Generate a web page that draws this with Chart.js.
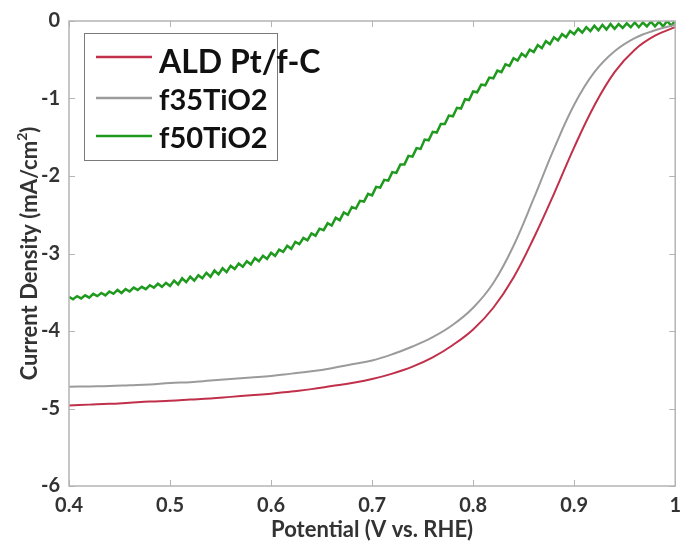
<!DOCTYPE html>
<html>
<head>
<meta charset="utf-8">
<script src="https://cdn.jsdelivr.net/npm/chart.js@4"></script>
<style>
    html, body { margin: 0; padding: 0; background: #fff; }
    #wrap { width: 689px; height: 544px; }
</style>
</head>
<body>
<div id="wrap"><canvas id="lsvChart" width="689" height="544"></canvas></div>
<script>
// Axis ticks
const xTicks = [0.4, 0.5, 0.6, 0.7, 0.8, 0.9, 1.0];
const xTickLabels = ['0.4', '0.5', '0.6', '0.7', '0.8', '0.9', '1'];
const yTicks = [0, -1, -2, -3, -4, -5, -6];
const yTickLabels = ['0', '-1', '-2', '-3', '-4', '-5', '-6'];

// Series names
const seriesNames = ['ALD Pt/f-C', 'f35TiO2', 'f50TiO2'];

// Potential grid shared by the two smooth curves (V vs. RHE)
const smoothV = [0.40, 0.42, 0.44, 0.46, 0.48, 0.50, 0.52, 0.54, 0.56, 0.58,
                 0.60, 0.62, 0.64, 0.66, 0.68, 0.70, 0.72, 0.74, 0.76, 0.78,
                 0.80, 0.82, 0.84, 0.86, 0.88, 0.90, 0.92, 0.94, 0.96, 0.98, 1.00];

// ALD Pt/f-C current (mA/cm2)
const ptJ = [-4.96, -4.95, -4.94, -4.925, -4.91, -4.90, -4.885, -4.87, -4.85, -4.83,
             -4.81, -4.78, -4.75, -4.71, -4.67, -4.62, -4.55, -4.46, -4.34, -4.18,
             -3.98, -3.70, -3.31, -2.80, -2.23, -1.63, -1.09, -0.66, -0.37, -0.19, -0.08];

// f35TiO2 current (mA/cm2)
const ti35J = [-4.72, -4.715, -4.71, -4.70, -4.69, -4.67, -4.66, -4.64, -4.62, -4.60,
               -4.58, -4.55, -4.52, -4.48, -4.43, -4.38, -4.30, -4.20, -4.08, -3.92,
               -3.70, -3.38, -2.90, -2.29, -1.65, -1.08, -0.66, -0.39, -0.22, -0.12, -0.05];

// f50TiO2 (noisy trace)
const ti50V = [
    0.400, 0.404, 0.408, 0.412, 0.416, 0.420, 0.424, 0.428, 0.432, 0.436,
    0.440, 0.444, 0.448, 0.452, 0.456, 0.460, 0.464, 0.468, 0.472, 0.476,
    0.480, 0.484, 0.488, 0.492, 0.496, 0.500, 0.504, 0.508, 0.512, 0.516,
    0.520, 0.524, 0.528, 0.532, 0.536, 0.540, 0.544, 0.548, 0.552, 0.556,
    0.560, 0.564, 0.568, 0.572, 0.576, 0.580, 0.584, 0.588, 0.592, 0.596,
    0.600, 0.604, 0.608, 0.612, 0.616, 0.620, 0.624, 0.628, 0.632, 0.636,
    0.640, 0.644, 0.648, 0.652, 0.656, 0.660, 0.664, 0.668, 0.672, 0.676,
    0.680, 0.684, 0.688, 0.692, 0.696, 0.700, 0.704, 0.708, 0.712, 0.716,
    0.720, 0.724, 0.728, 0.732, 0.736, 0.740, 0.744, 0.748, 0.752, 0.756,
    0.760, 0.764, 0.768, 0.772, 0.776, 0.780, 0.784, 0.788, 0.792, 0.796,
    0.800, 0.804, 0.808, 0.812, 0.816, 0.820, 0.824, 0.828, 0.832, 0.836,
    0.840, 0.844, 0.848, 0.852, 0.856, 0.860, 0.864, 0.868, 0.872, 0.876,
    0.880, 0.884, 0.888, 0.892, 0.896, 0.900, 0.904, 0.908, 0.912, 0.916,
    0.920, 0.924, 0.928, 0.932, 0.936, 0.940, 0.944, 0.948, 0.952, 0.956,
    0.960, 0.964, 0.968, 0.972, 0.976, 0.980, 0.984, 0.988, 0.992, 0.996,
    1.000
];
const ti50J = [
    -3.56, -3.59, -3.55, -3.58, -3.54, -3.57, -3.52, -3.55, -3.51, -3.54,
    -3.49, -3.52, -3.47, -3.51, -3.46, -3.49, -3.44, -3.47, -3.43, -3.46,
    -3.41, -3.44, -3.39, -3.43, -3.38, -3.42, -3.35, -3.40, -3.32, -3.37,
    -3.30, -3.35, -3.28, -3.32, -3.25, -3.30, -3.22, -3.27, -3.19, -3.24,
    -3.16, -3.20, -3.13, -3.17, -3.10, -3.14, -3.06, -3.10, -3.03, -3.07,
    -2.99, -3.03, -2.95, -2.98, -2.90, -2.94, -2.85, -2.88, -2.80, -2.83,
    -2.74, -2.77, -2.68, -2.70, -2.61, -2.64, -2.54, -2.57, -2.47, -2.50,
    -2.40, -2.42, -2.32, -2.33, -2.23, -2.25, -2.14, -2.15, -2.05, -2.06,
    -1.95, -1.96, -1.85, -1.85, -1.74, -1.75, -1.64, -1.65, -1.53, -1.54,
    -1.43, -1.44, -1.33, -1.33, -1.22, -1.23, -1.12, -1.13, -1.01, -1.02,
    -0.91, -0.92, -0.82, -0.83, -0.73, -0.74, -0.64, -0.66, -0.56, -0.58,
    -0.48, -0.51, -0.42, -0.46, -0.37, -0.40, -0.31, -0.35, -0.26, -0.30,
    -0.21, -0.25, -0.17, -0.21, -0.13, -0.17, -0.10, -0.15, -0.08, -0.13,
    -0.06, -0.12, -0.05, -0.11, -0.04, -0.10, -0.04, -0.09, -0.03, -0.08,
    -0.02, -0.08, -0.02, -0.07, -0.01, -0.07, -0.01, -0.07, 0.00, -0.06,
    0.00
];

const colors = {
    pt: '#c0304a',
    ti35: '#9b9b9b',
    ti50: '#1f9a1f',
    frame: '#b4b4b4',
    text: '#333333'
};

function toPoints(xs, ys) {
    return xs.map((x, i) => ({ x: x, y: ys[i] }));
}

// Frame with inward ticks, axis titles and legend box
const decorPlugin = {
    id: 'decor',
    afterDraw(chart) {
        const ctx = chart.ctx;
        const area = chart.chartArea;
        const xs = chart.scales.x;
        const ys = chart.scales.y;
        const tick = 6;

        ctx.save();
        ctx.strokeStyle = colors.frame;
        ctx.lineWidth = 1.5;
        ctx.strokeRect(area.left, area.top, area.right - area.left, area.bottom - area.top);

        ctx.lineWidth = 1;
        ctx.beginPath();
        xTicks.forEach(v => {
            const px = Math.round(xs.getPixelForValue(v)) + 0.5;
            ctx.moveTo(px, area.bottom);
            ctx.lineTo(px, area.bottom - tick);
            ctx.moveTo(px, area.top);
            ctx.lineTo(px, area.top + tick);
        });
        yTicks.forEach(v => {
            const py = Math.round(ys.getPixelForValue(v)) + 0.5;
            ctx.moveTo(area.left, py);
            ctx.lineTo(area.left + tick, py);
            ctx.moveTo(area.right, py);
            ctx.lineTo(area.right - tick, py);
        });
        ctx.stroke();

        // X axis title
        ctx.fillStyle = colors.text;
        ctx.font = 'bold 22px Lato';
        ctx.textAlign = 'center';
        ctx.textBaseline = 'middle';
        ctx.fillText('Potential (V vs. RHE)', (area.left + area.right) / 2, 530);

        // Y axis title with superscript
        ctx.save();
        ctx.translate(29, (area.top + area.bottom) / 2);
        ctx.rotate(-Math.PI / 2);
        const main = 'Current Density (mA/cm';
        const mainFont = 'bold 22px Lato';
        const supFont = 'bold 14px Lato';
        ctx.font = mainFont;
        const wMain = ctx.measureText(main).width;
        const wClose = ctx.measureText(')').width;
        ctx.font = supFont;
        const wSup = ctx.measureText('2').width;
        const x0 = -(wMain + wSup + wClose) / 2;
        ctx.textAlign = 'left';
        ctx.textBaseline = 'alphabetic';
        ctx.font = mainFont;
        ctx.fillText(main, x0, 8);
        ctx.font = supFont;
        ctx.fillText('2', x0 + wMain, -2);
        ctx.font = mainFont;
        ctx.fillText(')', x0 + wMain + wSup, 8);
        ctx.restore();

        // Legend
        const box = { left: 84, top: 33, right: 277, bottom: 160 };
        ctx.fillStyle = '#ffffff';
        ctx.fillRect(box.left, box.top, box.right - box.left, box.bottom - box.top);
        ctx.strokeStyle = '#7a7a7a';
        ctx.lineWidth = 1;
        ctx.strokeRect(box.left + 0.5, box.top + 0.5, box.right - box.left, box.bottom - box.top);

        const rows = [
            { color: colors.pt, lineY: 57, textY: 73, font: 'bold 32px Lato' },
            { color: colors.ti35, lineY: 98, textY: 110, font: 'bold 29px Lato' },
            { color: colors.ti50, lineY: 136, textY: 148, font: 'bold 29px Lato' }
        ];
        rows.forEach((r, i) => {
            ctx.strokeStyle = r.color;
            ctx.lineWidth = 2.5;
            ctx.beginPath();
            ctx.moveTo(96, r.lineY);
            ctx.lineTo(152, r.lineY);
            ctx.stroke();
            ctx.fillStyle = '#111111';
            ctx.font = r.font;
            ctx.textAlign = 'left';
            ctx.textBaseline = 'alphabetic';
            ctx.fillText(seriesNames[i], 159, r.textY);
        });
        ctx.restore();
    }
};

const tickFont = { family: 'Lato', size: 20, weight: 'bold' };

new Chart(document.getElementById('lsvChart').getContext('2d'), {
    type: 'line',
    data: {
        datasets: [
            {
                label: seriesNames[0],
                data: toPoints(smoothV, ptJ),
                borderColor: colors.pt,
                borderWidth: 2,
                pointRadius: 0,
                tension: 0.4
            },
            {
                label: seriesNames[1],
                data: toPoints(smoothV, ti35J),
                borderColor: colors.ti35,
                borderWidth: 2,
                pointRadius: 0,
                tension: 0.4
            },
            {
                label: seriesNames[2],
                data: toPoints(ti50V, ti50J),
                borderColor: colors.ti50,
                borderWidth: 2.5,
                pointRadius: 0,
                tension: 0
            }
        ]
    },
    options: {
        responsive: false,
        animation: false,
        devicePixelRatio: 1,
        layout: { padding: { top: 20, right: 3, left: 0, bottom: 0 } },
        plugins: {
            legend: { display: false },
            tooltip: { enabled: false }
        },
        scales: {
            x: {
                type: 'linear',
                min: 0.4,
                max: 1.0,
                afterFit: s => { s.height = 58; },
                afterBuildTicks: s => { s.ticks = xTicks.map(v => ({ value: v })); },
                grid: { display: false, drawTicks: false },
                border: { display: false },
                ticks: {
                    padding: 8,
                    color: colors.text,
                    font: tickFont,
                    maxRotation: 0,
                    callback: (v) => xTickLabels[xTicks.findIndex(t => Math.abs(t - v) < 1e-6)]
                }
            },
            y: {
                type: 'linear',
                min: -6,
                max: 0,
                afterFit: s => { s.width = 69; },
                afterBuildTicks: s => { s.ticks = yTicks.map(v => ({ value: v })); },
                grid: { display: false, drawTicks: false },
                border: { display: false },
                ticks: {
                    padding: 9,
                    color: colors.text,
                    font: tickFont,
                    callback: (v) => yTickLabels[yTicks.indexOf(v)]
                }
            }
        }
    },
    plugins: [decorPlugin]
});
</script>
</body>
</html>
